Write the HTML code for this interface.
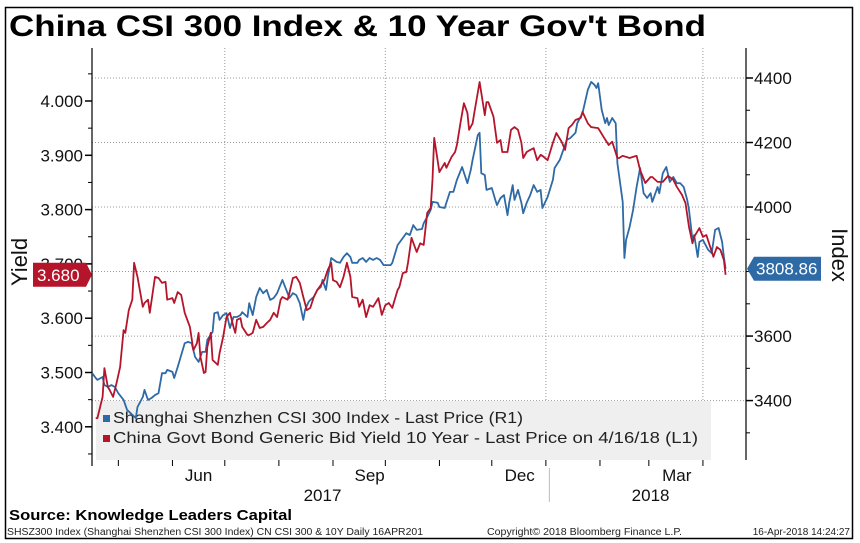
<!DOCTYPE html>
<html><head><meta charset="utf-8"><style>
html,body{margin:0;padding:0;background:#fff;}
svg{display:block;font-family:"Liberation Sans",sans-serif;}
</style></head><body>
<svg id="c" width="860" height="543" viewBox="0 0 860 543"></svg>
<script>
const redDays=[17,18,21,22,24,25,27,29,31,33,34,36,38,39,41,44,45,47,48,51,53,55,57,58,61,62,64,66,68,71,73,75,76,77,79,80,81,83,84,87,88,90,92,94,96,97,98,100,101,104,105,107,109,111,113,115,117,119,121,123,124,127,128,130,132,134,136,138,140,142,144,146,148,150,152,153,155,157,159,161,163,164,167,168,170,172,174,176,179,181,183,185,187,190,191,193,195,196,198,201,203,205,207,209,210,211,214,217,218,221,223,224,226,228,230,231,233,234,237,240,241,242,245,247,249,250,253,255,257,259,261,262,264,266,268,270,272,273,276,279,281,284,286,288,290,292,295,296,299,301,305,308,311,313,316,317,319,323,327,329,332,335,336,339,342,345,348,350,353,355,357,359,360,363,365,367,371,373,375,377,378];
const redVals=[3.416,3.416,3.455,3.508,3.473,3.468,3.455,3.481,3.510,3.578,3.573,3.615,3.634,3.702,3.676,3.621,3.628,3.634,3.610,3.676,3.674,3.665,3.667,3.634,3.637,3.628,3.648,3.643,3.610,3.584,3.541,3.554,3.573,3.529,3.499,3.501,3.547,3.573,3.523,3.514,3.536,3.565,3.602,3.610,3.584,3.573,3.597,3.600,3.584,3.569,3.569,3.573,3.597,3.582,3.584,3.591,3.597,3.610,3.602,3.634,3.639,3.634,3.646,3.674,3.676,3.665,3.639,3.615,3.619,3.639,3.652,3.661,3.670,3.689,3.702,3.670,3.667,3.657,3.676,3.702,3.676,3.639,3.637,3.621,3.634,3.602,3.624,3.621,3.637,3.606,3.624,3.628,3.619,3.652,3.657,3.683,3.685,3.702,3.748,3.722,3.738,3.735,3.794,3.803,3.855,3.932,3.869,3.886,3.877,3.897,3.906,3.919,3.959,3.996,3.978,3.947,3.959,3.978,4.035,3.974,3.998,3.998,3.971,3.923,3.928,3.906,3.906,3.947,3.952,3.947,3.923,3.895,3.906,3.910,3.913,3.891,3.901,3.899,3.891,3.923,3.941,3.925,3.910,3.950,3.956,3.965,3.969,3.980,3.959,3.952,3.950,3.934,3.919,3.925,3.895,3.895,3.899,3.895,3.899,3.873,3.849,3.860,3.860,3.851,3.851,3.862,3.855,3.842,3.827,3.812,3.768,3.738,3.750,3.766,3.750,3.753,3.713,3.731,3.726,3.707,3.680];
const blueDays=[15,17,18,21,22,24,26,28,30,33,35,37,40,41,44,45,47,49,51,53,55,57,58,61,62,64,66,68,70,72,74,76,78,80,81,84,85,87,88,90,92,94,96,98,100,101,104,105,107,109,111,113,115,117,119,121,124,127,128,130,132,134,136,137,139,140,142,144,146,147,149,150,152,155,157,159,161,163,164,167,168,170,172,174,176,178,180,182,186,187,190,193,195,197,199,201,204,205,207,209,210,213,214,217,220,222,224,227,230,232,233,236,237,238,240,241,244,246,247,249,251,253,254,256,257,259,261,262,264,266,268,270,272,273,276,279,280,283,285,287,289,292,293,296,299,301,303,304,305,307,309,310,311,313,315,316,319,320,321,323,325,327,329,331,333,335,336,339,340,342,344,346,348,350,352,354,356,357,359,360,362,363,365,368,370,372,374,376,377,378];
const blueVals=[3485,3470,3464,3473,3448,3442,3448,3442,3423,3402,3371,3361,3346,3380,3411,3433,3402,3408,3417,3423,3485,3485,3495,3489,3470,3504,3541,3578,3582,3578,3535,3520,3551,3551,3588,3613,3671,3674,3650,3665,3671,3625,3659,3659,3665,3674,3659,3702,3665,3721,3749,3733,3743,3712,3718,3733,3774,3733,3718,3733,3727,3702,3650,3681,3706,3712,3721,3743,3752,3774,3743,3783,3842,3830,3827,3845,3857,3845,3827,3827,3836,3842,3830,3842,3836,3842,3836,3820,3820,3827,3882,3904,3919,3913,3944,3929,3932,3950,3969,3991,4016,4013,4000,3997,4047,4047,4084,4124,4074,4115,4146,4223,4230,4105,4099,4053,4059,4022,4006,4028,4037,3975,4013,4068,4022,4053,4013,3981,4013,4037,4068,4047,4053,3997,4031,4084,4121,4146,4177,4208,4214,4230,4260,4291,4363,4388,4378,4369,4384,4301,4260,4276,4254,4276,4260,4136,4016,3842,3898,3938,3991,4062,4121,4043,4028,4043,4016,4062,4043,4105,4124,4078,4093,4074,4074,4062,4022,3991,3898,3913,3845,3892,3898,3867,3857,3929,3935,3892,3845,3808.86];
const leftTicks=[3.4,3.5,3.6,3.7,3.8,3.9,4.0];
const leftTickLabels=["3.400","3.500","3.600","3.700","3.800","3.900","4.000"];
const rightTicks=[3400,3600,4000,4200,4400];
const rightTickLabels=["3400","3600","4000","4200","4400"];
const monthLabels=["Jun","Sep","Dec","Mar"];
const monthLabelDays=[76,174,260,350];
const gridDays=[91,183,275,365];
const monthTickDays=[30,61,91,122,153,183,214,244,275,306,334,365];
const yearLabels=["2017","2018"];
const yearLabelDays=[147,335];

const svg=document.getElementById('c');
const NS='http://www.w3.org/2000/svg';
const PL=92,PR=746,PT=48,PB=460;
const xs=d=>66+d*1.745;
const yL=v=>101+(4.0-v)*543;
const yR=v=>78+(4400-v)/3.1;
function mk(tag,attrs,parent){const e=document.createElementNS(NS,tag);for(const k in attrs)e.setAttribute(k,attrs[k]);(parent||svg).appendChild(e);return e;}

let frame=mk('rect',{x:5.5,y:7.5,width:847,height:531,fill:'none',stroke:'#000','stroke-width':1.5});


let title=mk('text',{x:9,y:36,'font-size':30,'font-weight':'bold',fill:'#000',textLength:697,lengthAdjust:'spacingAndGlyphs'});
title.textContent="China CSI 300 Index & 10 Year Gov't Bond";



rightTicks.concat([3800]).forEach(v=>{const g=mk('line',{x1:PL,x2:PR,y1:yR(v),y2:yR(v),stroke:'#999','stroke-dasharray':'1,2','stroke-width':1});

});
gridDays.forEach(d=>{const g=mk('line',{x1:xs(d),x2:xs(d),y1:PT,y2:PB,stroke:'#999','stroke-dasharray':'1,2','stroke-width':1});

});

let lg=mk('g',{});


mk('rect',{x:96,y:401,width:615,height:59,fill:'#efefef'},lg);
mk('rect',{x:103,y:415,width:7,height:7,fill:'#2e6aa5'},lg);
let lt1=mk('text',{x:113,y:423,'font-size':16,fill:'#222',textLength:410,lengthAdjust:'spacingAndGlyphs'},lg);
lt1.textContent='Shanghai Shenzhen CSI 300 Index - Last Price (R1)';


mk('rect',{x:103,y:435,width:7,height:7,fill:'#b5152b'},lg);
let lt2=mk('text',{x:113,y:443,'font-size':16,fill:'#222',textLength:585,lengthAdjust:'spacingAndGlyphs'},lg);
lt2.textContent='China Govt Bond Generic Bid Yield 10 Year - Last Price on 4/16/18 (L1)';



let la=mk('line',{x1:PL,x2:PL,y1:PT,y2:PB+6,stroke:'#000','stroke-width':1.2});


let ra=mk('line',{x1:PR,x2:PR,y1:PT,y2:PB,stroke:'#000','stroke-width':1.2});


for(let v=3.35;v<4.1;v+=0.05){const y=yL(v);if(y<PT||y>PB)continue;mk('line',{x1:PL-4,x2:PL,y1:y,y2:y,stroke:'#000'});}
leftTicks.forEach((v,i)=>{const y=yL(v);mk('line',{x1:PL-7,x2:PL,y1:y,y2:y,stroke:'#000','stroke-width':1.5});
const t=mk('text',{x:PL-9,y:y+6,'font-size':17,'text-anchor':'end',fill:'#111'});t.textContent=leftTickLabels[i];

});
for(let v=3300;v<=4500;v+=100){const y=yR(v);if(y<PT||y>PB)continue;mk('line',{x1:PR,x2:PR+4,y1:y,y2:y,stroke:'#000'});}
rightTicks.forEach((v,i)=>{const y=yR(v);mk('line',{x1:PR,x2:PR+7,y1:y,y2:y,stroke:'#000','stroke-width':1.5});
const t=mk('text',{x:PR+8,y:y+6,'font-size':17,fill:'#111'});t.textContent=rightTickLabels[i];

});

monthTickDays.forEach(d=>{mk('line',{x1:xs(d),x2:xs(d),y1:PB,y2:PB+6,stroke:'#000'});});
monthLabels.forEach((m,i)=>{const t=mk('text',{x:xs(monthLabelDays[i]),y:PB+21,'font-size':17,'text-anchor':'middle',fill:'#111'});t.textContent=m;

});
yearLabels.forEach((m,i)=>{const t=mk('text',{x:xs(yearLabelDays[i]),y:PB+41,'font-size':17,'text-anchor':'middle',fill:'#111'});t.textContent=m;

});
mk('line',{x1:xs(277),x2:xs(277),y1:PB+8,y2:PB+42,stroke:'#bbb'});

function path(days,vals,sc){return days.map((d,i)=>(i?'L':'M')+xs(d).toFixed(1)+','+sc(vals[i]).toFixed(1)).join('');}
let bl=mk('path',{d:path(blueDays,blueVals,yR),fill:'none',stroke:'#2e6aa5','stroke-width':1.8,'stroke-linejoin':'round'});


let rl=mk('path',{d:path(redDays,redVals,yL),fill:'none',stroke:'#b5152b','stroke-width':1.8,'stroke-linejoin':'round'});



const ry=yL(redVals[redVals.length-1]);
let rt=mk('g',{});


mk('path',{d:`M33,${ry-12}H86L92,${ry}L86,${ry+12}H33Z`,fill:'#b5152b'},rt);
let rtt=mk('text',{x:37,y:ry+6,'font-size':17,fill:'#fff'},rt);rtt.textContent=redVals[redVals.length-1].toFixed(3);
const by=yR(blueVals[blueVals.length-1]);
let bt=mk('g',{});


mk('path',{d:`M747,${by}L754,${by-12}H821V${by+12}H754Z`,fill:'#2e6aa5'},bt);
let btt=mk('text',{x:756,y:by+6,'font-size':17,fill:'#fff'},bt);btt.textContent=blueVals[blueVals.length-1].toFixed(2);

let yt=mk('text',{x:0,y:0,'font-size':22,fill:'#111','text-anchor':'middle',transform:'translate(27,262) rotate(-90)'});yt.textContent='Yield';


let it=mk('text',{x:0,y:0,'font-size':22,fill:'#111','text-anchor':'middle',transform:'translate(832,255) rotate(90)'});it.textContent='Index';



let src=mk('text',{x:9,y:520,'font-size':15,'font-weight':'bold',fill:'#000',textLength:283,lengthAdjust:'spacingAndGlyphs'});src.textContent='Source: Knowledge Leaders Capital';


let f1=mk('text',{x:7,y:535,'font-size':10,fill:'#222',textLength:416,lengthAdjust:'spacingAndGlyphs'});f1.textContent='SHSZ300 Index (Shanghai Shenzhen CSI 300 Index) CN CSI 300 & 10Y  Daily 16APR201';


let f2=mk('text',{x:487,y:535,'font-size':10,fill:'#222',textLength:195,lengthAdjust:'spacingAndGlyphs'});f2.textContent='Copyright\u00a9 2018 Bloomberg Finance L.P.';


let f3=mk('text',{x:850,y:535,'font-size':10,fill:'#222','text-anchor':'end'});f3.textContent='16-Apr-2018 14:24:27';


</script>
</body></html>
